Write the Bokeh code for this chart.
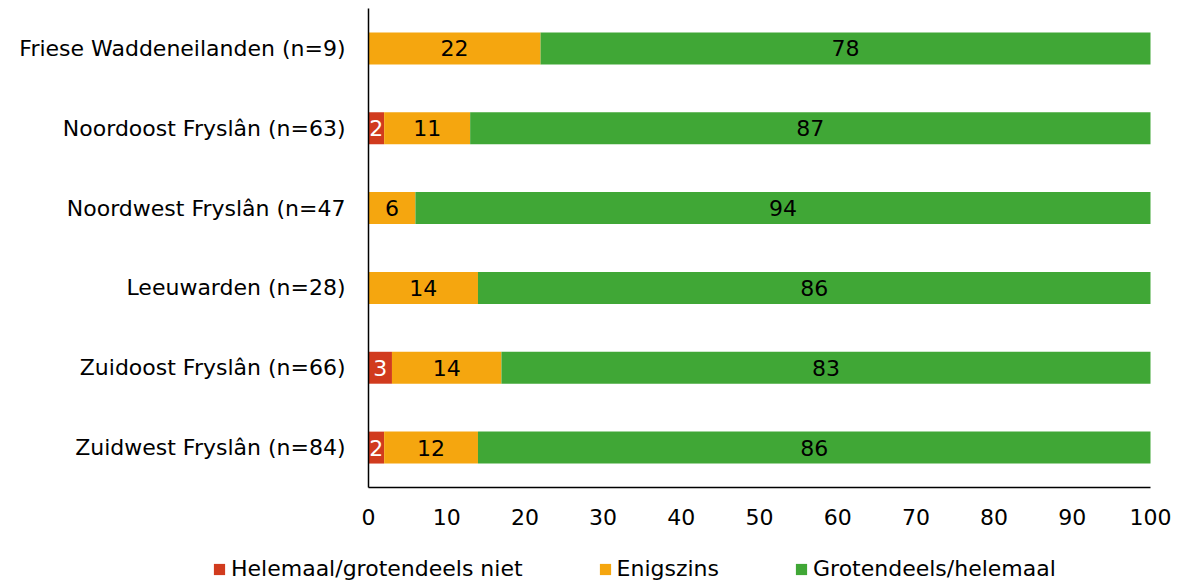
from bokeh.plotting import figure
from bokeh.models import (ColumnDataSource, Legend, LegendItem, Range1d, LinearAxis, FixedTicker, Grid)
from bokeh.core.properties import value
from bokeh.embed import file_html
from bokeh.resources import INLINE

regions = ["Friese Waddeneilanden (n=9)", "Noordoost Fryslân (n=63)", "Noordwest Fryslân (n=47",
           "Leeuwarden (n=28)", "Zuidoost Fryslân (n=66)", "Zuidwest Fryslân (n=84)"]
niet = [0, 2, 0, 0, 3, 2]
enigszins = [22, 11, 6, 14, 14, 12]
helemaal = [78, 87, 94, 86, 83, 86]
series_names = ["Helemaal/grotendeels niet", "Enigszins", "Grotendeels/helemaal"]
colors = ["#D13B1E", "#F5A60F", "#40A736"]
x_ticks = [0, 10, 20, 30, 40, 50, 60, 70, 80, 90, 100]

FONT = "DejaVu Sans"
FS = "22px"

n = len(regions)
ypos = [n - 1 - i for i in range(n)]  # first region at the top

src = ColumnDataSource(dict(y=ypos, niet=niet, enigszins=enigszins, helemaal=helemaal))

# The frame covers the whole canvas so the legend below the axis is not clipped;
# axes are placed at fixed locations inside it.
W, H = 1183, 584
px_left, px_right, px_top, px_bottom = 368, 1150, 8, 487
xs_ = (px_right - px_left) / 100.0
x0 = -px_left / xs_
x1 = x0 + W / xs_
ys_ = (px_bottom - px_top) / n
y0 = -0.5 - (H - px_bottom) / ys_
y1 = (n - 0.5) + px_top / ys_

p = figure(x_range=Range1d(x0, x1), y_range=Range1d(y0, y1), width=W, height=H,
           min_border=0, x_axis_location=None, y_axis_location=None,
           output_backend="svg", toolbar_location=None)
p.outline_line_color = None
for r in list(p.center) + list(p.renderers):
    if isinstance(r, Grid):
        r.visible = False
        r.grid_line_color = None

renderers = p.hbar_stack(["niet", "enigszins", "helemaal"], y="y", height=0.4, color=colors,
                         source=src, line_color=None)

# segment labels
keys = [niet, enigszins, helemaal]
txt_colors = ["white", "black", "black"]
for si, vals in enumerate(keys):
    xs, ys, ts = [], [], []
    for ri in range(n):
        v = vals[ri]
        if v <= 0:
            continue
        start = sum(keys[k][ri] for k in range(si))
        xs.append(start + v / 2)
        ys.append(ypos[ri])
        ts.append(str(v))
    s = ColumnDataSource(dict(x=xs, y=ys, t=ts))
    p.text(x="x", y="y", text="t", source=s, text_align="center", text_baseline="middle",
           text_font=value(FONT), text_font_size=FS, text_color=txt_colors[si])

xaxis = LinearAxis(fixed_location=-0.5, bounds=(0, 100), ticker=FixedTicker(ticks=x_ticks))
xaxis.major_tick_line_color = None
xaxis.minor_tick_line_color = None
xaxis.axis_line_color = "black"
xaxis.axis_line_width = 1.5
xaxis.major_label_text_font = FONT
xaxis.major_label_text_font_size = FS
xaxis.major_label_text_color = "black"
xaxis.major_label_standoff = 15
p.add_layout(xaxis, "below")

yaxis = LinearAxis(fixed_location=0, bounds=(-0.5, n - 0.5), ticker=FixedTicker(ticks=ypos),
                   major_label_overrides={ypos[i]: regions[i] for i in range(n)})
yaxis.major_tick_line_color = None
yaxis.minor_tick_line_color = None
yaxis.axis_line_color = "black"
yaxis.axis_line_width = 1.5
yaxis.major_label_text_font = FONT
yaxis.major_label_text_font_size = FS
yaxis.major_label_text_color = "black"
yaxis.major_label_standoff = 17
p.add_layout(yaxis, "left")

legend = Legend(items=[LegendItem(label=series_names[i], renderers=[renderers[i]]) for i in range(3)],
                orientation="horizontal", location=(212, 3),
                label_text_font=FONT, label_text_font_size=FS, label_text_color="black",
                glyph_width=14, glyph_height=14, label_standoff=5, spacing=75,
                border_line_color=None, background_fill_alpha=0, padding=0, margin=0)
p.add_layout(legend, "center")

open("out.html", "w").write(file_html(p, INLINE))
